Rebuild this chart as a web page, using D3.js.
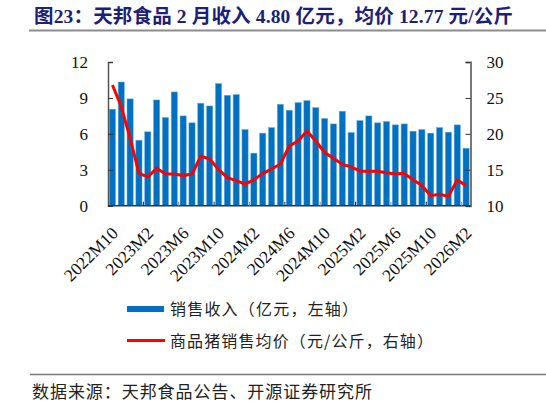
<!DOCTYPE html>
<html><head><meta charset="utf-8">
<script src="https://cdn.jsdelivr.net/npm/d3@7/dist/d3.min.js"></script>
<style>
body{margin:0;background:#fff;}
svg{display:block;}
</style></head>
<body>
<svg id="c" width="546" height="405"></svg>
<script>
const months = ["2022M10","2022M11","2022M12",
"2023M1","2023M2","2023M3","2023M4","2023M5","2023M6","2023M7","2023M8","2023M9","2023M10","2023M11","2023M12",
"2024M1","2024M2","2024M3","2024M4","2024M5","2024M6","2024M7","2024M8","2024M9","2024M10","2024M11","2024M12",
"2025M1","2025M2","2025M3","2025M4","2025M5","2025M6","2025M7","2025M8","2025M9","2025M10","2025M11","2025M12",
"2026M1","2026M2"];
const revenue = [8.06,10.33,8.92,5.47,6.17,8.83,7.36,9.5,7.5,6.92,8.56,8.33,10.2,9.22,9.28,6.36,4.39,6.06,6.53,8.47,7.97,8.61,8.78,8.19,7.28,6.83,7.89,6.11,7.11,7.5,6.92,7.03,6.75,6.83,6.22,6.36,6.06,6.53,6.14,6.75,4.80];
const price = [26.8,23.8,19.4,14.5,14.0,15.2,14.4,14.4,14.2,14.4,16.9,16.5,15.05,13.9,13.5,13.0,13.6,14.5,15.1,15.8,18.3,19.0,20.4,19.0,17.4,16.6,15.75,15.4,14.8,14.8,14.8,14.6,14.4,14.5,13.6,12.8,11.4,11.6,11.3,13.6,12.77];
const leftTicks = [0,3,6,9,12];
const rightTicks = [10,15,20,25,30];
const xLabels = ["2022M10","2023M2","2023M6","2023M10","2024M2","2024M6","2024M10","2025M2","2025M6","2025M10","2026M2"];
const titleText = "图23：天邦食品 2 月收入 4.80 亿元，均价 12.77 元/公斤";
const legendBar = "销售收入（亿元，左轴）";
const legendLine = "商品猪销售均价（元/公斤，右轴）";
const sourceText = "数据来源：天邦食品公告、开源证券研究所";

const svg = d3.select("#c");
const L = 108, R = 470.5, T = 62, B = 205.7;
const x = d3.scaleBand().domain(months).range([L, R]).paddingInner(0.3).paddingOuter(0.15);
const yL = d3.scaleLinear().domain([0,12]).range([B, T]);
const yR = d3.scaleLinear().domain([10,30]).range([B, T]);
const serif = "'Liberation Serif','Times New Roman',serif";
const cjk = "'Noto Sans CJK SC','Noto Sans',sans-serif";

// title
svg.append("text").attr("x", 34).attr("y", 23)
  .attr("font-family", "'Liberation Serif','Noto Sans CJK SC',serif")
  .attr("font-weight", "bold").attr("font-size", 19.5)
  .attr("textLength", 479).attr("lengthAdjust", "spacing")
  .attr("fill", "#1c2079").text(titleText);
svg.append("line").attr("x1", 29).attr("x2", 546).attr("y1", 30.5).attr("y2", 30.5)
  .attr("stroke", "#8c8c8c").attr("stroke-width", 2);

// bars
svg.append("g").selectAll("rect").data(revenue).join("rect")
  .attr("x", (d,i) => x(months[i]))
  .attr("width", x.bandwidth())
  .attr("y", d => yL(d))
  .attr("height", d => B - yL(d))
  .attr("fill", "#0070c0")
  .attr("stroke", "#6aaee6").attr("stroke-width", 0.5);

// line
const line = d3.line().x((d,i) => x(months[i]) + x.bandwidth()/2).y(d => yR(d));
svg.append("path").datum(price).attr("d", line)
  .attr("fill", "none").attr("stroke", "#ff0000").attr("stroke-width", 3)
  .attr("stroke-linejoin", "round");

// axes
const gL = svg.append("g").attr("transform", `translate(${L},0)`)
  .call(d3.axisLeft(yL).tickValues(leftTicks).tickSize(-5).tickPadding(20));
const gR = svg.append("g").attr("transform", `translate(${R},0)`)
  .call(d3.axisRight(yR).tickValues(rightTicks).tickSize(-5).tickPadding(16));
[gL, gR].forEach(g => {
  g.selectAll("text").attr("font-family", serif).attr("font-size", 17).attr("fill", "#111");
  g.selectAll("line").attr("stroke", "#333");
  g.select(".domain").attr("stroke", "#555").attr("stroke-width", 1.5);
});
gR.select(".domain").attr("stroke", "#777").attr("stroke-width", 2);

// x axis
const gX = svg.append("g").attr("transform", `translate(0,${B})`);
gX.append("line").attr("x1", L).attr("x2", R).attr("stroke", "#333").attr("stroke-width", 1.5);
const step = x.step();
const tickIdx = d3.range(4, months.length, 4);
gX.selectAll(".tk").data(tickIdx).join("line").attr("class","tk")
  .attr("x1", i => x(months[i]) - step*x.paddingInner()/2).attr("x2", i => x(months[i]) - step*x.paddingInner()/2)
  .attr("y1", 0).attr("y2", -4).attr("stroke", (i,k) => k%2===0 ? "#222" : "#888");
gX.selectAll(".lb").data(xLabels).join("text").attr("class","lb")
  .attr("transform", d => `translate(${x(d) + x.bandwidth()/2 - 2},${20}) rotate(-45)`)
  .attr("text-anchor", "end").attr("dy", "0.7em")
  .attr("font-family", serif).attr("font-size", 17.5).attr("fill", "#111").text(d => d);

// legend
svg.append("rect").attr("x", 127).attr("y", 306).attr("width", 37).attr("height", 6).attr("fill", "#0070c0");
svg.append("text").attr("x", 170).attr("y", 315).attr("font-family", cjk).attr("font-size", 16)
  .attr("textLength", 188).attr("lengthAdjust", "spacing")
  .attr("fill", "#222").text(legendBar);
svg.append("line").attr("x1", 127).attr("x2", 165).attr("y1", 340.5).attr("y2", 340.5)
  .attr("stroke", "#ff0000").attr("stroke-width", 3);
svg.append("text").attr("x", 170).attr("y", 347).attr("font-family", cjk).attr("font-size", 16)
  .attr("textLength", 263).attr("lengthAdjust", "spacing")
  .attr("fill", "#222").text(legendLine);

// source
svg.append("line").attr("x1", 30).attr("x2", 546).attr("y1", 374.5).attr("y2", 374.5)
  .attr("stroke", "#777").attr("stroke-width", 1.5);
svg.append("text").attr("x", 32).attr("y", 398).attr("font-family", cjk).attr("font-size", 17)
  .attr("textLength", 340).attr("lengthAdjust", "spacing")
  .attr("fill", "#222").text(sourceText);
</script>
</body></html>
